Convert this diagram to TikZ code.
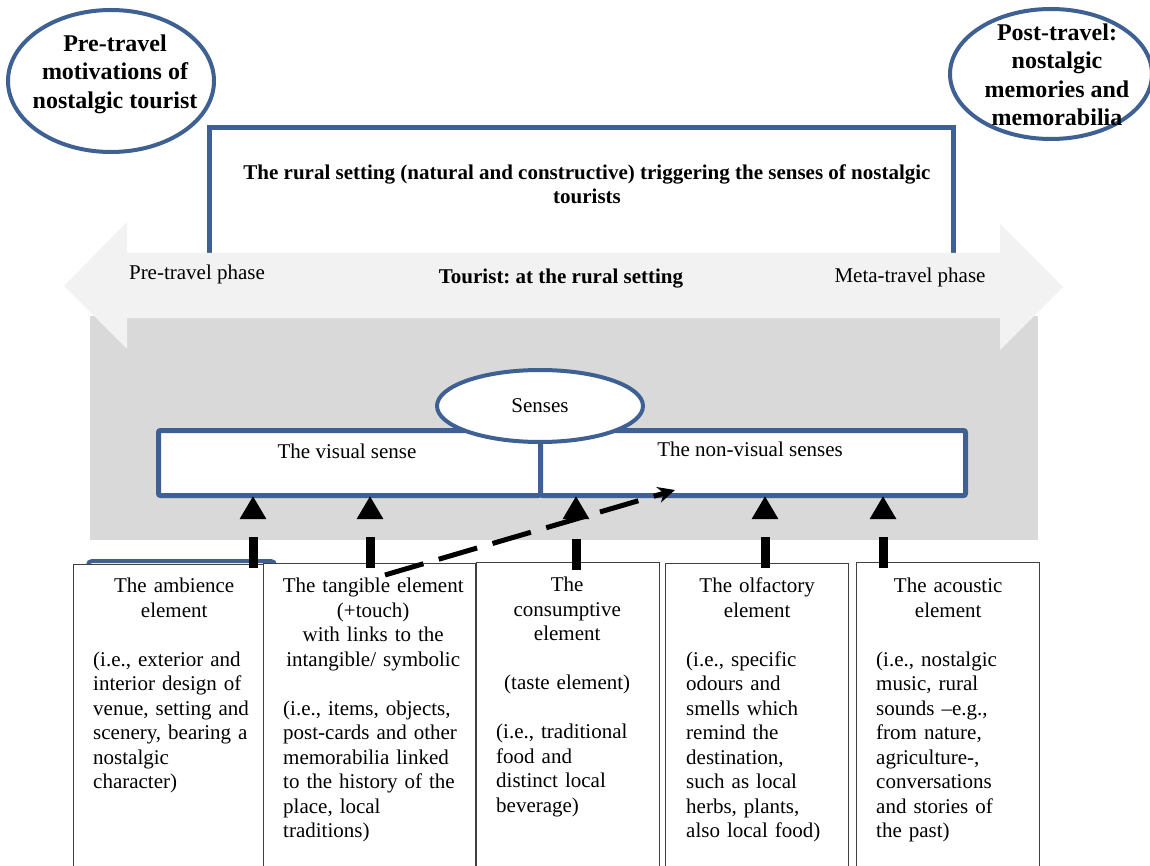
\documentclass[tikz,border=0pt]{standalone}
\usepackage{fontspec}
\setmainfont{Liberation Serif}
\frenchspacing
\usetikzlibrary{arrows.meta,shapes.geometric,calc}
\definecolor{bord}{RGB}{62,96,146}
\definecolor{bandgray}{RGB}{242,242,242}
\definecolor{areagray}{RGB}{217,217,217}
\begin{document}
\frenchspacing
\begin{tikzpicture}[x=1pt,y=-1pt,
  oval/.style={ellipse, draw=bord, line width=4pt, fill=white, inner sep=0pt},
  ovaltext/.style={font=\fontsize{24}{28.5}\selectfont\bfseries, align=center, inner sep=0pt},
  phase/.style={font=\fontsize{21}{24.5}\selectfont, inner sep=0pt},
  phasebold/.style={font=\fontsize{21}{24.5}\selectfont\bfseries, inner sep=0pt, align=center},
  sensebox/.style={draw=bord, line width=5pt, rounded corners=2pt, fill=white, inner sep=0pt, anchor=north west, minimum height=65},
  elbox/.style={draw=black!75, line width=1.2pt, fill=white, inner sep=0pt, anchor=north west, minimum height=330},
  eltext/.style={font=\fontsize{21}{24.5}\selectfont, inner sep=0pt, anchor=north west, align=left},
  sensearrow/.style={line width=9pt, dash pattern=on 31pt off 300pt, -{Triangle[length=23pt,width=25pt]}},
  linkarrow/.style={line width=5pt, dash pattern=on 40pt off 16pt, -{Stealth[length=17pt,width=16pt]}}
]
\clip (0,0) rectangle (1150,866);
\fill[white] (0,0) rectangle (1150,866);

% top ellipses
\node[oval, minimum width=206, minimum height=142] (pre) at (111,81) {};
\node[ovaltext] (pretext) at (115,74) {Pre-travel\\motivations of\\nostalgic tourist};
\node[oval, minimum width=202, minimum height=130] (post) at (1051,74) {};
\node[ovaltext] (posttext) at (1057,75) {Post-travel:\\nostalgic\\memories and\\memorabilia};

% rural setting frame
\draw[bord, line width=5pt] (209,262) |- (953,128) -- (953,262);
\node[phasebold] (rural) at (587,184) {The rural setting (natural and constructive) triggering the senses of nostalgic\\tourists};

% gray area
\fill[areagray] (90,316) rectangle (1038,540);

% double arrow
\fill[bandgray] (64,286) -- (127,222) -- (127,253) -- (1000,253) -- (1000,224) -- (1063,287)
  -- (1000,350) -- (1000,318) -- (127,318) -- (127,349) -- cycle;
\node[phase] (prephase) at (197,274) {Pre-travel phase};
\node[phasebold] (tourist) at (561,279) {Tourist: at the rural setting};
\node[phase] (metaphase) at (910,277) {Meta-travel phase};

% sense boxes
\node[sensebox, minimum width=382] (vis) at (156,428) {};
\node[sensebox, minimum width=425] (nonvis) at (538,428) {};
\node[phase] (vistext) at (347,451) {The visual sense};
\node[phase] (nonvistext) at (750,449) {The non-visual senses};
\node[oval, minimum width=206, minimum height=72, font=\fontsize{21}{24.5}\selectfont] (senses) at (540,406) {Senses};

% partially hidden blue box
\draw[bord, line width=4pt, rounded corners=4pt] (88,700) |- (275,561) -- (275,700);

% element boxes
\node[elbox, minimum width=190] (b1) at (73,564) {};
\node[elbox, minimum width=212] (b2) at (263,563) {};
\node[elbox, minimum width=183] (b3) at (476,562) {};
\node[elbox, minimum width=183] (b4) at (665,563) {};
\node[elbox, minimum width=183] (b5) at (856,562) {};

\node[eltext, text width=162] (t1) at (93,578) {{\centering The ambience\\element\par}\vspace{24.5pt}(i.e., exterior and\\interior design of\\venue, setting and\\scenery, bearing a\\nostalgic\\character)};
\node[eltext, text width=196] (t2) at (275,578) {{\centering The tangible element\\(+touch)\\with links to the\\intangible/ symbolic\par}\vspace{24.5pt}\hspace*{8pt}(i.e., items, objects,\\\hspace*{8pt}post-cards and other\\\hspace*{8pt}memorabilia linked\\\hspace*{8pt}to the history of the\\\hspace*{8pt}place, local\\\hspace*{8pt}traditions)};
\node[eltext, text width=142] (t3) at (496,577) {{\centering The\\consumptive\\element\par}\vspace{24.5pt}{\centering (taste element)\par}\vspace{24.5pt}(i.e., traditional\\food and\\distinct local\\beverage)};
\node[eltext, text width=142] (t4) at (686,578) {{\centering The olfactory\\element\par}\vspace{24.5pt}(i.e., specific\\odours and\\smells which\\remind the\\destination,\\such as local\\herbs, plants,\\also local food)};
\node[eltext, text width=144] (t5) at (876,578) {{\centering The acoustic\\element\par}\vspace{24.5pt}(i.e., nostalgic\\music, rural\\sounds --e.g.,\\from nature,\\agriculture-,\\conversations\\and stories of\\the past)};

% arrows from elements to senses
\coordinate (a1) at (253,568);
\coordinate (a2) at (370,568);
\coordinate (a3) at (576,570);
\coordinate (a4) at (765,568);
\coordinate (a5) at (883,568);
\draw[sensearrow] (a1) -- ([yshift=2pt]a1 |- vis.south);
\draw[sensearrow] (a2) -- ([yshift=2pt]a2 |- vis.south);
\draw[sensearrow] (a3) -- ([yshift=2pt]a3 |- nonvis.south);
\draw[sensearrow] (a4) -- ([yshift=2pt]a4 |- nonvis.south);
\draw[sensearrow] (a5) -- ([yshift=2pt]a5 |- nonvis.south);

% dashed link
\coordinate (l1) at (385,575);
\coordinate (l2) at (675,490);
\draw[linkarrow] (l1) -- (l2);
\end{tikzpicture}
\end{document}
